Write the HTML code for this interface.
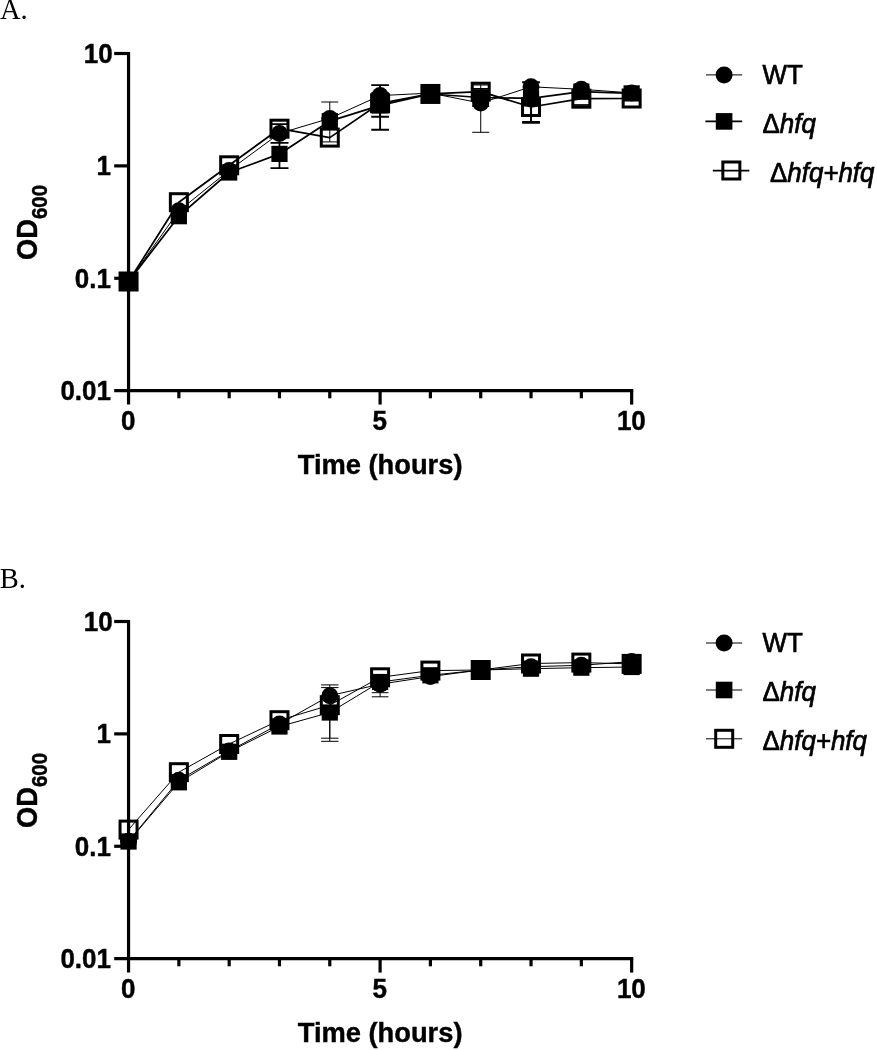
<!DOCTYPE html>
<html lang="en"><head><meta charset="utf-8"><title>Growth curves</title>
<style>
html,body{margin:0;padding:0;background:#fff}
body{width:877px;height:1050px;overflow:hidden}
svg{display:block;filter:blur(0.4px)}
text{fill:#000}
.tk{font:bold 26px "Liberation Sans",Arial,sans-serif;stroke:#000;stroke-width:0.4px}
.tt{font:bold 27.3px "Liberation Sans",Arial,sans-serif;stroke:#000;stroke-width:0.4px}
.sub{font-size:20.5px}
.lg{font:25.9px "Liberation Sans",Arial,sans-serif;stroke:#000;stroke-width:0.7px}
.pl{font:28.5px "Liberation Serif","Times New Roman",serif}
</style></head><body>
<svg width="877" height="1050" viewBox="0 0 877 1050">
<rect width="877" height="1050" fill="#fff"/>
<text x="0" y="19.4" class="pl">A.</text>
<text x="-0.3" y="587.6" class="pl">B.</text>
<path d="M279.48 142.90V168.10M270.48 142.90h18M270.48 168.10h18" stroke="#000" stroke-width="1.75" fill="none"/>
<path d="M279.48 124.20V134.40M270.73 124.20h17.5M270.73 134.40h17.5" stroke="#000" stroke-width="1.75" fill="none"/>
<path d="M329.79 102.00V141.90M321.29 102.00h17M321.29 141.90h17" stroke="#000" stroke-width="1.0" fill="none"/>
<path d="M380.10 85.10V129.80M371.25 85.10h17.7M371.25 129.80h17.7" stroke="#000" stroke-width="1.9" fill="none"/>
<path d="M380.10 93.10V116.80M371.25 93.10h17.7M371.25 116.80h17.7" stroke="#000" stroke-width="1.9" fill="none"/>
<path d="M480.72 85.00V132.30M472.22 85.00h17M472.22 132.30h17" stroke="#000" stroke-width="1.0" fill="none"/>
<path d="M480.72 88.80V106.00M472.22 88.80h17.0M472.22 106.00h17.0" stroke="#000" stroke-width="1.75" fill="none"/>
<path d="M531.03 82.30V122.00M522.13 82.30h17.8M522.13 122.00h17.8" stroke="#000" stroke-width="2.0" fill="none"/>
<path d="M531.03 99.00V122.80M522.13 99.00h17.8M522.13 122.80h17.8" stroke="#000" stroke-width="2.0" fill="none"/>
<path d="M572.84 105.00h17.0" stroke="#000" stroke-width="1.75" fill="none"/>
<polyline points="128.55,281.50 178.86,210.80 229.17,170.40 279.48,133.40 329.79,118.40 380.10,95.60 430.41,93.10 480.72,103.10 531.03,86.80 581.34,89.30 631.65,92.90" fill="none" stroke="#000" stroke-width="1.0" stroke-linejoin="round"/>
<polyline points="128.55,281.50 178.86,216.20 229.17,172.50 279.48,153.90 329.79,121.10 380.10,105.40 430.41,94.00 480.72,97.50 531.03,98.40 581.34,91.60 631.65,93.40" fill="none" stroke="#000" stroke-width="1.75" stroke-linejoin="round"/>
<polyline points="128.55,281.50 178.86,202.20 229.17,165.30 279.48,128.70 329.79,137.60 380.10,103.30 430.41,93.96 480.72,91.70 531.03,107.00 581.34,98.70 631.65,98.50" fill="none" stroke="#000" stroke-width="1.75" stroke-linejoin="round"/>
<circle cx="128.55" cy="281.50" r="8.5"/>
<circle cx="178.86" cy="210.80" r="8.5"/>
<circle cx="229.17" cy="170.40" r="8.5"/>
<circle cx="279.48" cy="133.40" r="8.5"/>
<circle cx="329.79" cy="118.40" r="8.5"/>
<circle cx="380.10" cy="95.60" r="8.5"/>
<circle cx="430.41" cy="93.10" r="8.5"/>
<circle cx="480.72" cy="103.10" r="8.5"/>
<circle cx="531.03" cy="86.80" r="8.5"/>
<circle cx="581.34" cy="89.30" r="8.5"/>
<circle cx="631.65" cy="92.90" r="8.5"/>
<rect x="120.45" y="273.40" width="16.2" height="16.2"/>
<rect x="170.76" y="208.10" width="16.2" height="16.2"/>
<rect x="221.07" y="164.40" width="16.2" height="16.2"/>
<rect x="271.38" y="145.80" width="16.2" height="16.2"/>
<rect x="321.69" y="113.00" width="16.2" height="16.2"/>
<rect x="372.00" y="97.30" width="16.2" height="16.2"/>
<rect x="422.31" y="85.90" width="16.2" height="16.2"/>
<rect x="472.62" y="89.40" width="16.2" height="16.2"/>
<rect x="522.93" y="90.30" width="16.2" height="16.2"/>
<rect x="573.24" y="83.50" width="16.2" height="16.2"/>
<rect x="623.55" y="85.30" width="16.2" height="16.2"/>
<rect x="120.05" y="273.00" width="17.0" height="17.0" fill="none" stroke="#000" stroke-width="3.0"/>
<rect x="170.36" y="193.70" width="17.0" height="17.0" fill="none" stroke="#000" stroke-width="3.0"/>
<rect x="220.67" y="156.80" width="17.0" height="17.0" fill="none" stroke="#000" stroke-width="3.0"/>
<rect x="270.98" y="120.20" width="17.0" height="17.0" fill="none" stroke="#000" stroke-width="3.0"/>
<rect x="321.29" y="129.10" width="17.0" height="17.0" fill="none" stroke="#000" stroke-width="3.0"/>
<rect x="371.60" y="94.80" width="17.0" height="17.0" fill="none" stroke="#000" stroke-width="3.0"/>
<rect x="421.91" y="85.46" width="17.0" height="17.0" fill="none" stroke="#000" stroke-width="3.0"/>
<rect x="472.22" y="83.20" width="17.0" height="17.0" fill="none" stroke="#000" stroke-width="3.0"/>
<rect x="522.53" y="98.50" width="17.0" height="17.0" fill="none" stroke="#000" stroke-width="3.0"/>
<rect x="572.84" y="90.20" width="17.0" height="17.0" fill="none" stroke="#000" stroke-width="3.0"/>
<rect x="623.15" y="90.00" width="17.0" height="17.0" fill="none" stroke="#000" stroke-width="3.0"/>
<path d="M128.55 51.90V404.60" stroke="#000" stroke-width="3.2" fill="none"/>
<path d="M114.20 390.65H633.25" stroke="#000" stroke-width="3.2" fill="none"/>
<path d="M114.2 53.50H128.55" stroke="#000" stroke-width="3.2"/>
<path d="M114.2 165.88H128.55" stroke="#000" stroke-width="3.2"/>
<path d="M114.2 278.27H128.55" stroke="#000" stroke-width="3.2"/>
<path d="M178.86 390.65V398.30" stroke="#000" stroke-width="3.2"/>
<path d="M229.17 390.65V398.30" stroke="#000" stroke-width="3.2"/>
<path d="M279.48 390.65V398.30" stroke="#000" stroke-width="3.2"/>
<path d="M329.79 390.65V398.30" stroke="#000" stroke-width="3.2"/>
<path d="M380.10 390.65V404.60" stroke="#000" stroke-width="3.2"/>
<path d="M430.41 390.65V398.30" stroke="#000" stroke-width="3.2"/>
<path d="M480.72 390.65V398.30" stroke="#000" stroke-width="3.2"/>
<path d="M531.03 390.65V398.30" stroke="#000" stroke-width="3.2"/>
<path d="M581.34 390.65V398.30" stroke="#000" stroke-width="3.2"/>
<path d="M631.65 390.65V404.60" stroke="#000" stroke-width="3.2"/>
<text transform="translate(112.6 62.90) scale(1 1.04)" text-anchor="end" class="tk">10</text>
<text transform="translate(111.0 175.28) scale(1 1.04)" text-anchor="end" class="tk">1</text>
<text transform="translate(111.0 287.67) scale(1 1.04)" text-anchor="end" class="tk">0.1</text>
<text transform="translate(111.0 400.05) scale(1 1.04)" text-anchor="end" class="tk">0.01</text>
<text transform="translate(128.25 430.00) scale(1 1.04)" text-anchor="middle" class="tk">0</text>
<text transform="translate(379.80 430.00) scale(1 1.04)" text-anchor="middle" class="tk">5</text>
<text transform="translate(631.35 430.00) scale(1 1.04)" text-anchor="middle" class="tk">10</text>
<text transform="translate(380.1 473.90) scale(1 1.04)" text-anchor="middle" class="tt">Time (hours)</text>
<text transform="translate(37 222.40) rotate(-90) scale(1 1.075)" text-anchor="middle" class="tt">OD<tspan class="sub" dy="9.0">600</tspan></text>
<path d="M706 74.90H742.2" stroke="#000" stroke-width="1.0"/>
<circle cx="724.1" cy="74.90" r="8.5"/>
<text transform="translate(762.5 83.70) scale(1 1.04)" class="lg">WT</text>
<path d="M705.4 121.40H742.2" stroke="#000" stroke-width="1.75"/>
<rect x="715.80" y="113.10" width="16.599999999999998" height="16.599999999999998"/>
<text transform="translate(762.5 132.70) scale(1 1.04)" class="lg">&#916;<tspan font-style="italic">hfq</tspan></text>
<path d="M712.8 170.50H749.3" stroke="#000" stroke-width="1.75"/>
<rect x="722.85" y="162.00" width="17.0" height="17.0" fill="none" stroke="#000" stroke-width="3.0"/>
<text transform="translate(770 181.80) scale(1 1.04)" class="lg">&#916;<tspan font-style="italic">hfq+hfq</tspan></text>
<path d="M329.79 684.90V738.20M321.09 684.90h17.4M321.09 738.20h17.4" stroke="#000" stroke-width="1.0" fill="none"/>
<path d="M329.79 687.60V741.30M321.09 687.60h17.4M321.09 741.30h17.4" stroke="#000" stroke-width="1.0" fill="none"/>
<path d="M380.10 682.00V692.70M371.75 682.00h16.7M371.75 692.70h16.7" stroke="#000" stroke-width="1.0" fill="none"/>
<path d="M380.10 682.00V696.80M371.75 682.00h16.7M371.75 696.80h16.7" stroke="#000" stroke-width="1.0" fill="none"/>
<polyline points="128.55,841.20 178.86,780.20 229.17,751.00 279.48,724.00 329.79,695.70 380.10,684.20 430.41,676.50 480.72,670.00 531.03,666.70 581.34,665.30 631.65,661.60" fill="none" stroke="#000" stroke-width="1.0" stroke-linejoin="round"/>
<polyline points="128.55,841.50 178.86,782.30 229.17,751.80 279.48,726.50 329.79,712.50 380.10,682.00 430.41,675.30 480.72,670.00 531.03,668.70 581.34,667.70 631.65,667.00" fill="none" stroke="#000" stroke-width="1.0" stroke-linejoin="round"/>
<polyline points="128.55,829.60 178.86,772.20 229.17,744.00 279.48,720.20 329.79,705.20 380.10,677.30 430.41,670.60 480.72,670.00 531.03,663.50 581.34,662.60 631.65,663.90" fill="none" stroke="#000" stroke-width="1.0" stroke-linejoin="round"/>
<circle cx="128.55" cy="841.20" r="8.5"/>
<circle cx="178.86" cy="780.20" r="8.5"/>
<circle cx="229.17" cy="751.00" r="8.5"/>
<circle cx="279.48" cy="724.00" r="8.5"/>
<circle cx="329.79" cy="695.70" r="8.5"/>
<circle cx="380.10" cy="684.20" r="8.5"/>
<circle cx="430.41" cy="676.50" r="8.5"/>
<circle cx="480.72" cy="670.00" r="8.5"/>
<circle cx="531.03" cy="666.70" r="8.5"/>
<circle cx="581.34" cy="665.30" r="8.5"/>
<circle cx="631.65" cy="661.60" r="8.5"/>
<rect x="120.45" y="833.40" width="16.2" height="16.2"/>
<rect x="170.76" y="774.20" width="16.2" height="16.2"/>
<rect x="221.07" y="743.70" width="16.2" height="16.2"/>
<rect x="271.38" y="718.40" width="16.2" height="16.2"/>
<rect x="321.69" y="704.40" width="16.2" height="16.2"/>
<rect x="372.00" y="673.90" width="16.2" height="16.2"/>
<rect x="422.31" y="667.20" width="16.2" height="16.2"/>
<rect x="472.62" y="661.90" width="16.2" height="16.2"/>
<rect x="522.93" y="660.60" width="16.2" height="16.2"/>
<rect x="573.24" y="659.60" width="16.2" height="16.2"/>
<rect x="623.55" y="658.90" width="16.2" height="16.2"/>
<rect x="120.05" y="821.10" width="17.0" height="17.0" fill="none" stroke="#000" stroke-width="3.0"/>
<rect x="170.36" y="763.70" width="17.0" height="17.0" fill="none" stroke="#000" stroke-width="3.0"/>
<rect x="220.67" y="735.50" width="17.0" height="17.0" fill="none" stroke="#000" stroke-width="3.0"/>
<rect x="270.98" y="711.70" width="17.0" height="17.0" fill="none" stroke="#000" stroke-width="3.0"/>
<rect x="321.29" y="696.70" width="17.0" height="17.0" fill="none" stroke="#000" stroke-width="3.0"/>
<rect x="371.60" y="668.80" width="17.0" height="17.0" fill="none" stroke="#000" stroke-width="3.0"/>
<rect x="421.91" y="662.10" width="17.0" height="17.0" fill="none" stroke="#000" stroke-width="3.0"/>
<rect x="472.22" y="661.50" width="17.0" height="17.0" fill="none" stroke="#000" stroke-width="3.0"/>
<rect x="522.53" y="655.00" width="17.0" height="17.0" fill="none" stroke="#000" stroke-width="3.0"/>
<rect x="572.84" y="654.10" width="17.0" height="17.0" fill="none" stroke="#000" stroke-width="3.0"/>
<rect x="623.15" y="655.40" width="17.0" height="17.0" fill="none" stroke="#000" stroke-width="3.0"/>
<path d="M128.55 619.90V972.60" stroke="#000" stroke-width="3.2" fill="none"/>
<path d="M114.20 958.65H633.25" stroke="#000" stroke-width="3.2" fill="none"/>
<path d="M114.2 621.50H128.55" stroke="#000" stroke-width="3.2"/>
<path d="M114.2 733.88H128.55" stroke="#000" stroke-width="3.2"/>
<path d="M114.2 846.27H128.55" stroke="#000" stroke-width="3.2"/>
<path d="M178.86 958.65V966.30" stroke="#000" stroke-width="3.2"/>
<path d="M229.17 958.65V966.30" stroke="#000" stroke-width="3.2"/>
<path d="M279.48 958.65V966.30" stroke="#000" stroke-width="3.2"/>
<path d="M329.79 958.65V966.30" stroke="#000" stroke-width="3.2"/>
<path d="M380.10 958.65V972.60" stroke="#000" stroke-width="3.2"/>
<path d="M430.41 958.65V966.30" stroke="#000" stroke-width="3.2"/>
<path d="M480.72 958.65V966.30" stroke="#000" stroke-width="3.2"/>
<path d="M531.03 958.65V966.30" stroke="#000" stroke-width="3.2"/>
<path d="M581.34 958.65V966.30" stroke="#000" stroke-width="3.2"/>
<path d="M631.65 958.65V972.60" stroke="#000" stroke-width="3.2"/>
<text transform="translate(112.6 630.90) scale(1 1.04)" text-anchor="end" class="tk">10</text>
<text transform="translate(111.0 743.28) scale(1 1.04)" text-anchor="end" class="tk">1</text>
<text transform="translate(111.0 855.67) scale(1 1.04)" text-anchor="end" class="tk">0.1</text>
<text transform="translate(111.0 968.05) scale(1 1.04)" text-anchor="end" class="tk">0.01</text>
<text transform="translate(128.25 998.00) scale(1 1.04)" text-anchor="middle" class="tk">0</text>
<text transform="translate(379.80 998.00) scale(1 1.04)" text-anchor="middle" class="tk">5</text>
<text transform="translate(631.35 998.00) scale(1 1.04)" text-anchor="middle" class="tk">10</text>
<text transform="translate(380.1 1041.90) scale(1 1.04)" text-anchor="middle" class="tt">Time (hours)</text>
<text transform="translate(37 790.40) rotate(-90) scale(1 1.075)" text-anchor="middle" class="tt">OD<tspan class="sub" dy="9.0">600</tspan></text>
<path d="M706 643.00H742.2" stroke="#000" stroke-width="1.0"/>
<circle cx="724.1" cy="643.00" r="8.5"/>
<text transform="translate(762.5 651.80) scale(1 1.04)" class="lg">WT</text>
<path d="M706 690.00H742.2" stroke="#000" stroke-width="1.0"/>
<rect x="715.80" y="681.70" width="16.599999999999998" height="16.599999999999998"/>
<text transform="translate(762.5 701.00) scale(1 1.04)" class="lg">&#916;<tspan font-style="italic">hfq</tspan></text>
<path d="M706 738.80H742.2" stroke="#000" stroke-width="1.0"/>
<rect x="715.70" y="730.30" width="17.0" height="17.0" fill="none" stroke="#000" stroke-width="3.0"/>
<text transform="translate(762.5 750.10) scale(1 1.04)" class="lg">&#916;<tspan font-style="italic">hfq+hfq</tspan></text>
</svg>
</body></html>
